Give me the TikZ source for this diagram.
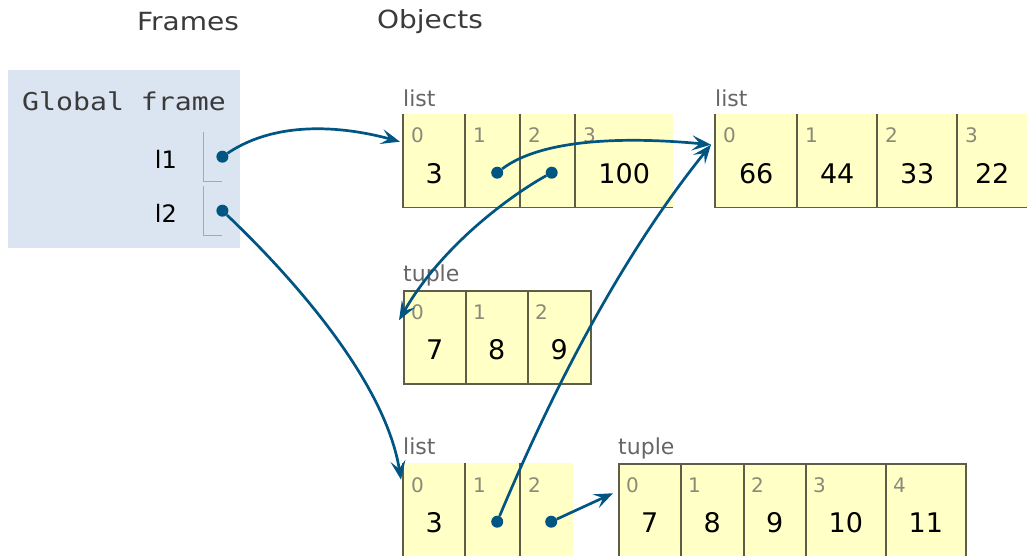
\documentclass[tikz,border=0pt]{standalone}
\usepackage{fontspec}
\setmainfont{DejaVu Sans}
\newfontfamily\titlefont{DejaVu Sans}[FakeStretch=1.12]
\newfontfamily\gframefont{DejaVu Sans Mono}[FakeStretch=1.15]
\usetikzlibrary{arrows.meta}
\tikzset{>={Stealth[length=19pt,width=15pt,inset=8pt]}}
\definecolor{ptrblue}{HTML}{005583}
\definecolor{cellfill}{HTML}{FFFFC6}
\definecolor{cellline}{HTML}{5E5E48}
\definecolor{framefill}{HTML}{DBE5F1}
\definecolor{slotline}{HTML}{A8A8A8}
\definecolor{titlegray}{HTML}{3A3A3A}
\definecolor{labgray}{HTML}{666666}
\definecolor{idxgray}{HTML}{8A8A78}
\newcommand{\fsz}[1]{\fontsize{#1}{#1}\selectfont}

\begin{document}
\begin{tikzpicture}[x=1pt, y=-1pt,
    cell/.style={fill=cellfill, minimum height=93pt, inner sep=0pt, anchor=north west},
    tcell/.style={cell, draw=cellline, line width=1.5pt},
    lline/.style={cellline, line width=1.5pt},
    typelab/.style={anchor=base west, inner sep=0pt, text=labgray, font=\fsz{22}},
    idx/.style={anchor=base west, inner sep=0pt, text=idxgray, font=\fsz{20}},
    val/.style={anchor=base, inner sep=0pt, font=\fsz{27}},
    ptr/.style={circle, fill=ptrblue, inner sep=0pt, minimum size=12pt},
    ref/.style={->, draw=ptrblue, line width=2.7pt}]

    \fill[white] (0,0) rectangle (1030,556);
    \useasboundingbox (0,0) rectangle (1030,556);

    \node[font=\titlefont\fsz{25}, text=titlegray] (frames) at (188,22) {Frames};
    \node[font=\titlefont\fsz{25}, text=titlegray] (objects) at (430,22) {Objects};

    \node[fill=framefill, minimum width=232pt, minimum height=178pt, inner sep=0pt, anchor=north west] (gframe) at (8,70) {};
    \node[font=\gframefont\fsz{24.5}, anchor=west, inner sep=0pt, text=titlegray] (gname) at (22,101) {Global frame};
    \foreach \n/\y in {1/132, 2/186} {
        \node[minimum width=19pt, minimum height=49pt, inner sep=0pt, anchor=north west] (slot\n) at (203,\y) {};
        \draw[slotline, line width=1pt] (slot\n.north west) -- (slot\n.south west) -- (slot\n.south east);
        \node[font=\fsz{24}, anchor=east, inner sep=0pt] (var\n) at ([xshift=-26pt,yshift=-3pt]slot\n.west) {l\n};
        \node[ptr] (p\n) at (slot\n.east) {};
    }

    % list A
    \node[typelab] (Alab) at ([yshift=7pt]403,114) {list};
    \foreach \a/\b/\i/\v in {403/465/0/3, 465/520/1/, 520/575/2/, 575/673/3/100} {
        \node[cell, minimum width=(\b-\a)*1pt] (A\i) at (\a,114) {};
        \draw[lline] (A\i.north west) -- (A\i.south west) -- (A\i.south east);
        \node[idx] (Ai\i) at ([xshift=8pt,yshift=-29pt]A\i.north west) {\i};
        \node[val] (Av\i) at ([yshift=-69pt]A\i.north) {\v};
    }

    % list B
    \node[typelab] (Blab) at ([yshift=7pt]715,114) {list};
    \foreach \a/\b/\i/\v in {715/797/0/66, 797/877/1/44, 877/957/2/33, 957/1027/3/22} {
        \node[cell, minimum width=(\b-\a)*1pt] (B\i) at (\a,114) {};
        \draw[lline] (B\i.north west) -- (B\i.south west) -- (B\i.south east);
        \node[idx] (Bi\i) at ([xshift=8pt,yshift=-29pt]B\i.north west) {\i};
        \node[val] (Bv\i) at ([yshift=-69pt]B\i.north) {\v};
    }

    % tuple T
    \node[typelab] (Tlab) at ([yshift=9pt]403,290) {tuple};
    \foreach \a/\b/\i/\v in {403/465/0/7, 465/527/1/8, 527/590/2/9} {
        \node[tcell, minimum width=(\b-\a)*1pt] (T\i) at (\a,290) {};
        \node[idx] (Ti\i) at ([xshift=8pt,yshift=-29pt]T\i.north west) {\i};
        \node[val] (Tv\i) at ([yshift=-69pt]T\i.north) {\v};
    }

    % list C
    \node[typelab] (Clab) at ([yshift=9pt]403,463) {list};
    \foreach \a/\b/\i/\v in {403/465/0/3, 465/520/1/, 520/573/2/} {
        \node[cell, minimum width=(\b-\a)*1pt] (C\i) at (\a,463) {};
        \draw[lline] (C\i.north west) -- (C\i.south west) -- (C\i.south east);
        \node[idx] (Ci\i) at ([xshift=8pt,yshift=-29pt]C\i.north west) {\i};
        \node[val] (Cv\i) at ([yshift=-69pt]C\i.north) {\v};
    }

    % tuple U
    \node[typelab] (Ulab) at ([yshift=9pt]618,463) {tuple};
    \foreach \a/\b/\i/\v in {618/680/0/7, 680/743/1/8, 743/805/2/9, 805/885/3/10, 885/965/4/11} {
        \node[tcell, minimum width=(\b-\a)*1pt] (U\i) at (\a,463) {};
        \node[idx] (Ui\i) at ([xshift=8pt,yshift=-29pt]U\i.north west) {\i};
        \node[val] (Uv\i) at ([yshift=-69pt]U\i.north) {\v};
    }

    \node[ptr] (pA1) at ([xshift=4.5pt,yshift=-12pt]A1.center) {};
    \node[ptr] (pA2) at ([xshift=4pt,yshift=-12pt]A2.center) {};
    \node[ptr] (pC1) at ([xshift=4.5pt,yshift=-12pt]C1.center) {};
    \node[ptr] (pC2) at ([xshift=4.5pt,yshift=-12pt]C2.center) {};

    \draw[ref] (p1) .. controls (280,118) and (350,128) .. ([xshift=-3pt,yshift=19pt]A0.west);
    \draw[ref] (p2) .. controls (290,275) and (385,380) .. ([xshift=-2pt,yshift=30pt]C0.west);
    \draw[ref] (pA1) .. controls (540,140) and (620,136) .. ([xshift=-4pt,yshift=16pt]B0.west);
    \draw[ref] (pA2) .. controls (520,190) and (445,240) .. ([xshift=-4pt,yshift=17pt]T0.west);
    \draw[ref] (pC1) .. controls (540,420) and (610,270) .. ([xshift=-4pt,yshift=16pt]B0.west);
    \draw[ref] (pC2) -- ([xshift=-5pt,yshift=17pt]U0.west);
\end{tikzpicture}
\end{document}
